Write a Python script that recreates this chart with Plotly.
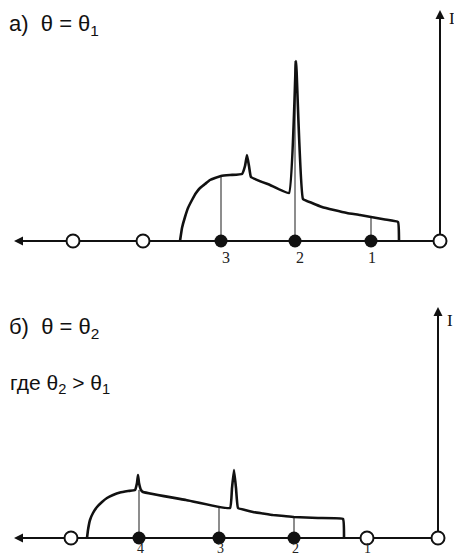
import plotly.graph_objects as go

# ---------------- data ----------------
# panel а) θ = θ1 : spectrum profile (position, intensity)
top_curve_x = [180, 182, 185, 188, 192, 196, 200, 205, 210, 215, 221, 230, 242, 245, 247, 249, 251, 270, 289, 296, 303, 312, 322, 334, 347, 360, 371, 385, 398, 399]
top_curve_I = [0, 13, 24, 33, 41, 48, 53, 57, 61, 63, 65, 66, 67, 75, 86, 75, 64, 56, 48, 180, 42, 38, 34, 31, 28, 26, 24, 21.5, 19, 0]
top_line_x = [221, 295, 371]
top_line_I = [65, 180, 24]
top_filled_x = [221, 295, 371]
top_filled_labels = ["3", "2", "1"]
top_open_x = [73, 143, 440]

# panel б) θ = θ2
bot_curve_x = [87, 88, 90, 93, 97, 102, 107, 113, 120, 128, 135, 137, 138, 139, 141, 143, 186, 230, 232, 234, 236, 238, 245, 253, 263, 273, 284, 294, 318, 343, 344]
bot_curve_I = [0, 8, 18, 25, 31, 36, 40, 43, 45.5, 47, 48, 55, 63, 55, 48, 46, 38, 30, 50, 68, 50, 30, 28, 26, 24.5, 23, 22, 21, 20, 19, 0]
bot_line_x = [139, 219, 294]
bot_line_I = [48, 31, 21]
bot_filled_x = [139, 219, 294]
bot_filled_labels = ["4", "3", "2"]
bot_open_x = [71, 367, 438]
bot_open_labels = ["1"]
bot_open_label_x = [367]

axis_left = 14
axis_top_I = 231

title_top = "а)  θ = θ<sub>1</sub>"
title_bot = "б)  θ = θ<sub>2</sub>"
note_bot = "где θ<sub>2</sub> > θ<sub>1</sub>"

# ---------------- figure ----------------
fig = go.Figure()
BLACK = "#111111"
GREY = "#505050"


def drops(xs, hs):
    X, Y = [], []
    for x, h in zip(xs, hs):
        X += [x, x, None]
        Y += [0, h, None]
    return X, Y


def panel(xa, ya, cx, cI, lx, lI, fx, ox, vx):
    fig.add_trace(go.Scatter(x=[axis_left + 2, vx], y=[0, 0], mode="lines",
                             line=dict(color=BLACK, width=2), xaxis=xa, yaxis=ya,
                             hoverinfo="skip"))
    fig.add_trace(go.Scatter(x=[vx, vx], y=[0, axis_top_I - 4], mode="lines",
                             line=dict(color=BLACK, width=2), xaxis=xa, yaxis=ya,
                             hoverinfo="skip"))
    X, Y = drops(lx, lI)
    fig.add_trace(go.Scatter(x=X, y=Y, mode="lines", line=dict(color=GREY, width=1.3),
                             xaxis=xa, yaxis=ya, hoverinfo="skip"))
    fig.add_trace(go.Scatter(x=cx, y=cI, mode="lines",
                             line=dict(color=BLACK, width=2.6, shape="spline", smoothing=0.3),
                             xaxis=xa, yaxis=ya, hoverinfo="skip"))
    fig.add_trace(go.Scatter(x=fx, y=[0] * len(fx), mode="markers",
                             marker=dict(color=BLACK, size=13, line=dict(width=0)),
                             xaxis=xa, yaxis=ya, hoverinfo="skip"))
    fig.add_trace(go.Scatter(x=ox, y=[0] * len(ox), mode="markers",
                             marker=dict(color="white", size=13, line=dict(color=BLACK, width=2)),
                             xaxis=xa, yaxis=ya, hoverinfo="skip"))


panel("x", "y", top_curve_x, top_curve_I, top_line_x, top_line_I, top_filled_x, top_open_x, top_open_x[-1])
panel("x2", "y2", bot_curve_x, bot_curve_I, bot_line_x, bot_line_I, bot_filled_x, bot_open_x, bot_open_x[-1])

ann = []


def arrows(xr, yr, vx, label_dy):
    ann.append(dict(x=axis_left, y=0, ax=axis_left + 14, ay=0, xref=xr, yref=yr,
                    axref=xr, ayref=yr, showarrow=True, arrowhead=2, arrowsize=1,
                    arrowwidth=1.8, arrowcolor=BLACK, text=""))
    ann.append(dict(x=vx, y=axis_top_I, ax=vx, ay=axis_top_I - 14, xref=xr, yref=yr,
                    axref=xr, ayref=yr, showarrow=True, arrowhead=2, arrowsize=1,
                    arrowwidth=1.8, arrowcolor=BLACK, text=""))
    ann.append(dict(x=vx + 7, y=axis_top_I - label_dy, xref=xr, yref=yr, text="I", showarrow=False,
                    xanchor="left", yanchor="middle",
                    font=dict(family="Liberation Serif", size=17, color=BLACK)))


arrows("x", "y", top_open_x[-1], 8)
arrows("x2", "y2", bot_open_x[-1], 13)

num_font = dict(family="Liberation Serif", size=16, color="#222222")
for x, t, dx in zip(top_filled_x, top_filled_labels, [5, 5, 1]):
    ann.append(dict(x=x + dx, y=-16, xref="x", yref="y", text=t, showarrow=False,
                    xanchor="center", yanchor="middle", font=num_font))
bot_num_font = dict(family="Liberation Serif", size=14, color="#222222")
for x, t in zip(bot_filled_x, bot_filled_labels):
    ann.append(dict(x=x + 1, y=-10, xref="x2", yref="y2", text=t, showarrow=False,
                    xanchor="center", yanchor="middle", font=bot_num_font))
for x, t in zip(bot_open_label_x, bot_open_labels):
    ann.append(dict(x=x, y=-10, xref="x2", yref="y2", text=t, showarrow=False,
                    xanchor="center", yanchor="middle", font=bot_num_font))

txt_font = dict(family="Liberation Sans", size=22, color=BLACK)
ann.append(dict(x=7, y=216, xref="x", yref="y", text=title_top, showarrow=False,
                xanchor="left", yanchor="middle", font=txt_font))
ann.append(dict(x=7, y=210, xref="x2", yref="y2", text=title_bot, showarrow=False,
                xanchor="left", yanchor="middle", font=txt_font))
ann.append(dict(x=8, y=154, xref="x2", yref="y2", text=note_bot, showarrow=False,
                xanchor="left", yanchor="middle", font=dict(family="Liberation Sans", size=21, color=BLACK)))

ax_common = dict(visible=False, showgrid=False, zeroline=False, fixedrange=True)
fig.update_layout(
    width=454, height=558,
    margin=dict(l=0, r=0, t=0, b=0),
    paper_bgcolor="white", plot_bgcolor="white",
    showlegend=False,
    xaxis=dict(range=[0, 454], domain=[0, 1], anchor="y", **ax_common),
    yaxis=dict(range=[-38, 241], domain=[0.5, 1], anchor="x", **ax_common),
    xaxis2=dict(range=[0, 454], domain=[0, 1], anchor="y2", **ax_common),
    yaxis2=dict(range=[-20, 259], domain=[0, 0.5], anchor="x2", **ax_common),
    annotations=ann,
)

fig.write_html("out.html")
